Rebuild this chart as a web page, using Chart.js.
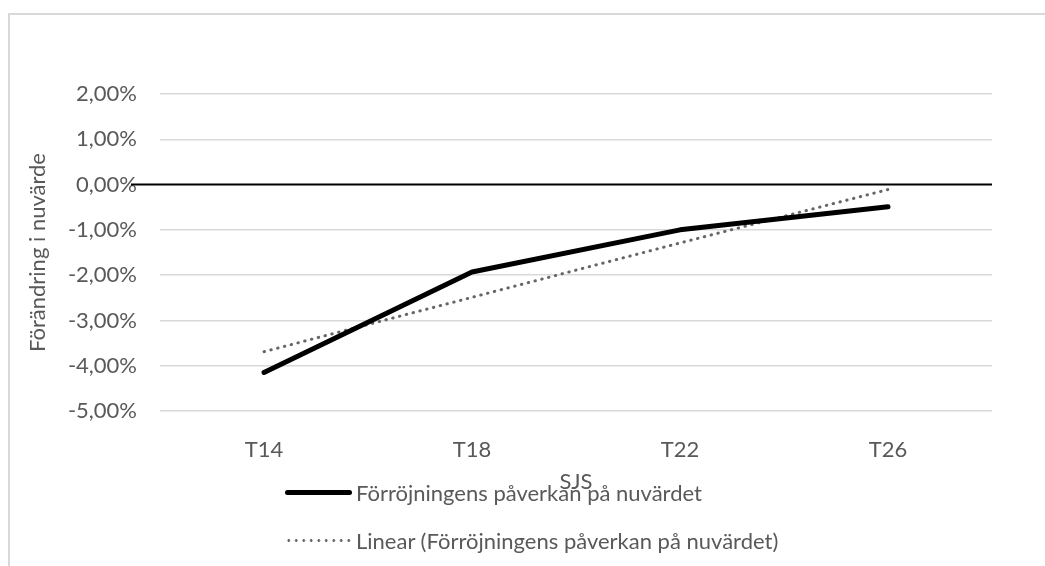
<!DOCTYPE html>
<html lang="sv">
<head>
<meta charset="utf-8">
<script src="https://cdn.jsdelivr.net/npm/chart.js@4.4.1/dist/chart.umd.min.js"></script>
<style>
    html, body { margin: 0; padding: 0; background: #fff; overflow: hidden; }
    #wrap { position: relative; width: 1045px; height: 566px; }
    #frame { position: absolute; left: 8px; top: 13px; width: 1100px; height: 600px; border: 2px solid #d9d9d9; box-sizing: border-box; }
    #chart { position: absolute; left: 0; top: 0; }
    #legend { position: absolute; left: 285px; top: 468px; font-family: Lato, sans-serif; font-size: 22px; color: #595959; }
    .item { display: flex; align-items: center; height: 48px; white-space: nowrap; }
    .swatch { width: 67px; margin-right: 4px; }
    .solid { height: 5px; background: #000; border-radius: 3px; }
    .dotted { height: 3px; background-image: radial-gradient(circle, #666 1.2px, transparent 1.6px); background-size: 7.5px 3px; background-repeat: repeat-x; }
</style>
</head>
<body>
<div id="wrap">
    <div id="frame"></div>
    <canvas id="chart" width="1045" height="566"></canvas>
    <div id="legend"></div>
</div>
<script>
const categories = ['T14', 'T18', 'T22', 'T26'];
const impactValues = [-4.15, -1.93, -1.0, -0.49];      // % per kategori
const trendValues = [-3.69, -2.49, -1.29, -0.11];      // trendlinje, avläst
const yTicks = [2, 1, 0, -1, -2, -3, -4, -5];

const fontFamily = 'Lato, sans-serif';
const fontSize = 22;
const textColor = '#595959';

// Excel drar nollinjen lite längre åt vänster än rutnätet
const zeroLine = {
    id: 'zeroLine',
    beforeDatasetsDraw(chart) {
        const { ctx, chartArea, scales } = chart;
        const y = scales.y.getPixelForValue(0);
        ctx.save();
        ctx.strokeStyle = '#000';
        ctx.lineWidth = 2;
        ctx.beginPath();
        ctx.moveTo(chartArea.left - 29, y);
        ctx.lineTo(chartArea.right, y);
        ctx.stroke();
        ctx.restore();
    }
};

const chart = new Chart(document.getElementById('chart'), {
    type: 'line',
    data: {
        labels: categories,
        datasets: [{
            label: 'Förröjningens påverkan på nuvärdet',
            data: impactValues,
            borderColor: '#000',
            borderWidth: 5,
            borderCapStyle: 'round',
            borderJoinStyle: 'round',
            pointRadius: 0,
            tension: 0
        }, {
            label: 'Linear (Förröjningens påverkan på nuvärdet)',
            data: trendValues,
            borderColor: '#666',
            borderWidth: 3,
            borderCapStyle: 'round',
            borderDash: [0.5, 6.5],
            pointRadius: 0,
            tension: 0
        }]
    },
    options: {
        responsive: false,
        animation: false,
        layout: { padding: { top: 94, right: 53, bottom: 71, left: 0 } },
        plugins: { legend: { display: false }, tooltip: { enabled: false } },
        scales: {
            x: {
                offset: true,
                grid: { display: false },
                border: { display: false },
                ticks: { color: textColor, font: { family: fontFamily, size: fontSize }, padding: 18 },
                title: { display: true, text: 'SJS', color: textColor, font: { family: fontFamily, size: fontSize }, padding: { top: 0, bottom: 0 } },
                afterFit: s => { s.height = 84; }
            },
            y: {
                min: -5,
                max: 2,
                afterBuildTicks: s => { s.ticks = yTicks.map(v => ({ value: v })); },
                ticks: {
                    color: textColor,
                    font: { family: fontFamily, size: fontSize },
                    padding: 23,
                    callback: v => v.toFixed(2).replace('.', ',') + '%'
                },
                grid: {
                    drawTicks: false,
                    color: ctx => ctx.tick && ctx.tick.value === 0 ? 'rgba(0,0,0,0)' : '#d9d9d9',
                    lineWidth: 1.5
                },
                border: { display: false },
                title: { display: true, text: 'Förändring i nuvärde', color: textColor, font: { family: fontFamily, size: fontSize }, padding: { top: 25, bottom: 0 } },
                afterFit: s => { s.width = 160; }
            }
        }
    },
    plugins: [zeroLine]
});

// egen legend, två rader under diagrammet
document.getElementById('legend').innerHTML = chart.data.datasets.map((ds, i) => `
    <div class="item">
        <div class="swatch ${i === 0 ? 'solid' : 'dotted'}"></div>
        <span>${ds.label}</span>
    </div>
`).join('');
</script>
</body>
</html>
